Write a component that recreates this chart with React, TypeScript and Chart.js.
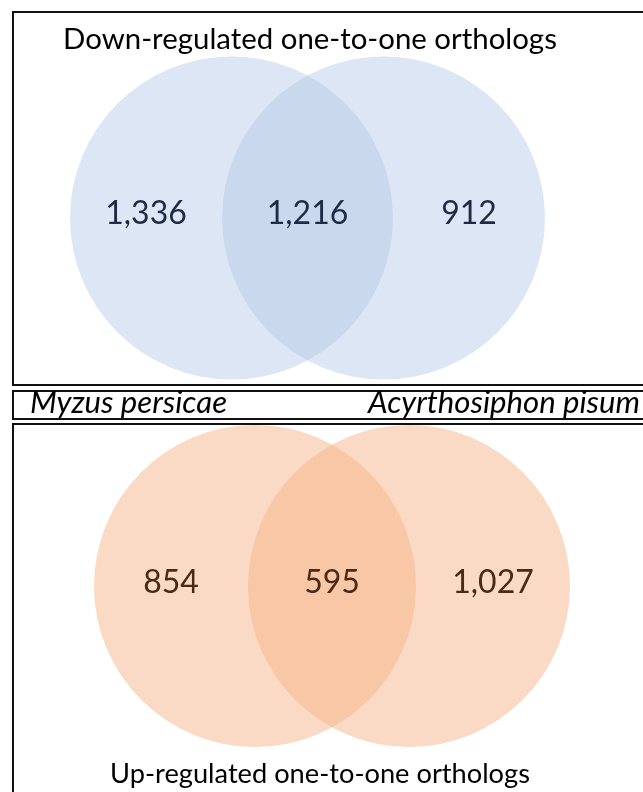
import React, { useEffect, useRef } from "react";
import { Chart, registerables } from "chart.js";

Chart.register(...registerables);

// ---- data ----
const speciesNames = ["Myzus persicae", "Acyrthosiphon pisum"];
const panelTitles = ["Down-regulated one-to-one orthologs", "Up-regulated one-to-one orthologs"];
// [left only (M. persicae), shared, right only (A. pisum)]
const downCounts = [1336, 1216, 912];
const upCounts = [854, 595, 1027];

// ---- layout (pixel space of the 643x792 canvas) ----
const W = 643;
const H = 792;
const TOP_VENN = { cx: [231.5, 383.5], cy: 218, r: 161.5 };
const BOT_VENN = { cx: [255, 409], cy: 586, r: 161 };
const BOXES = [
  { x: 13, y: 12, w: 700, h: 373 },
  { x: 13, y: 391, w: 700, h: 28 },
  { x: 13, y: 424, w: 700, h: 400 },
];
const FONT = "Lato, 'Open Sans', sans-serif";

const fmt = (n: number) => n.toLocaleString("en-US");

function fitSize(ctx: CanvasRenderingContext2D, text: string, style: string, target: number) {
  ctx.font = `${style} 100px ${FONT}`;
  const w = ctx.measureText(text).width;
  return (100 * target) / w;
}

const overlayPlugin = {
  id: "vennOverlay",
  afterDatasetsDraw(chart: any) {
    const ctx: CanvasRenderingContext2D = chart.ctx;
    const xs = chart.scales.x;
    const ys = chart.scales.y;
    const px = (v: number) => xs.getPixelForValue(v);
    const py = (v: number) => ys.getPixelForValue(v);
    ctx.save();
    // frames
    ctx.strokeStyle = "#111";
    ctx.lineWidth = 2;
    BOXES.forEach((b) => {
      ctx.strokeRect(px(b.x), py(b.y), px(b.x + b.w) - px(b.x), py(b.y + b.h) - py(b.y));
    });

    // titles
    ctx.fillStyle = "#000";
    ctx.textBaseline = "alphabetic";
    ctx.textAlign = "center";
    let s = fitSize(ctx, panelTitles[0], "normal", 494);
    ctx.font = `normal ${s}px ${FONT}`;
    ctx.fillText(panelTitles[0], px(310), py(49));
    s = fitSize(ctx, panelTitles[1], "normal", 420);
    ctx.font = `normal ${s}px ${FONT}`;
    ctx.fillText(panelTitles[1], px(320), py(783));

    // species
    s = fitSize(ctx, speciesNames[1], "italic", 272);
    ctx.font = `italic ${s}px ${FONT}`;
    ctx.textAlign = "left";
    ctx.fillText(speciesNames[0], px(30), py(413));
    ctx.textAlign = "right";
    ctx.fillText(speciesNames[1], px(640), py(413));

    // counts
    const drawCounts = (v: any, counts: number[], color: string, base: number) => {
      const [a, b] = v.cx;
      const r = v.r;
      const centers = [(a - r + (b - r)) / 2, (a + b) / 2, (a + r + (b + r)) / 2];
      ctx.fillStyle = color;
      ctx.textAlign = "center";
      ctx.font = `normal 32px ${FONT}`;
      counts.forEach((c, i) => ctx.fillText(fmt(c), px(centers[i]), py(base)));
    };
    drawCounts(TOP_VENN, downCounts, "#1f2a44", 224);
    drawCounts(BOT_VENN, upCounts, "#4a2a14", 593);
    ctx.restore();
  },
};

export default function App() {
  const ref = useRef<HTMLCanvasElement | null>(null);
  useEffect(() => {
    document.body.style.margin = "0";
    if (!ref.current) return;
    const radius = (r: number) => (c: any) => {
      const s = c.chart.scales.x;
      return Math.abs(s.getPixelForValue(r) - s.getPixelForValue(0));
    };
    const chart = new Chart(ref.current, {
      type: "scatter",
      data: {
        datasets: [
          {
            label: "Down-regulated",
            data: TOP_VENN.cx.map((x) => ({ x, y: TOP_VENN.cy })),
            backgroundColor: "rgba(180,199,231,0.45)",
            borderWidth: 0,
            pointRadius: radius(TOP_VENN.r),
            clip: false,
          } as any,
          {
            label: "Up-regulated",
            data: BOT_VENN.cx.map((x) => ({ x, y: BOT_VENN.cy })),
            backgroundColor: "rgba(244,177,131,0.48)",
            borderWidth: 0,
            pointRadius: radius(BOT_VENN.r),
            clip: false,
          } as any,
        ],
      },
      options: {
        animation: false,
        responsive: false,
        events: [],
        layout: { padding: 0, autoPadding: false },
        plugins: { legend: { display: false }, tooltip: { enabled: false }, title: { display: false } },
        scales: {
          x: { type: "linear", min: 0, max: W, display: false },
          y: { type: "linear", min: 0, max: H, reverse: true, display: false },
        },
      },
      plugins: [overlayPlugin],
    });
    return () => chart.destroy();
  }, []);
  return (
    <div style={{ width: W, height: H, background: "#fff" }}>
      <canvas ref={ref} width={W} height={H} style={{ display: "block" }} />
    </div>
  );
}
